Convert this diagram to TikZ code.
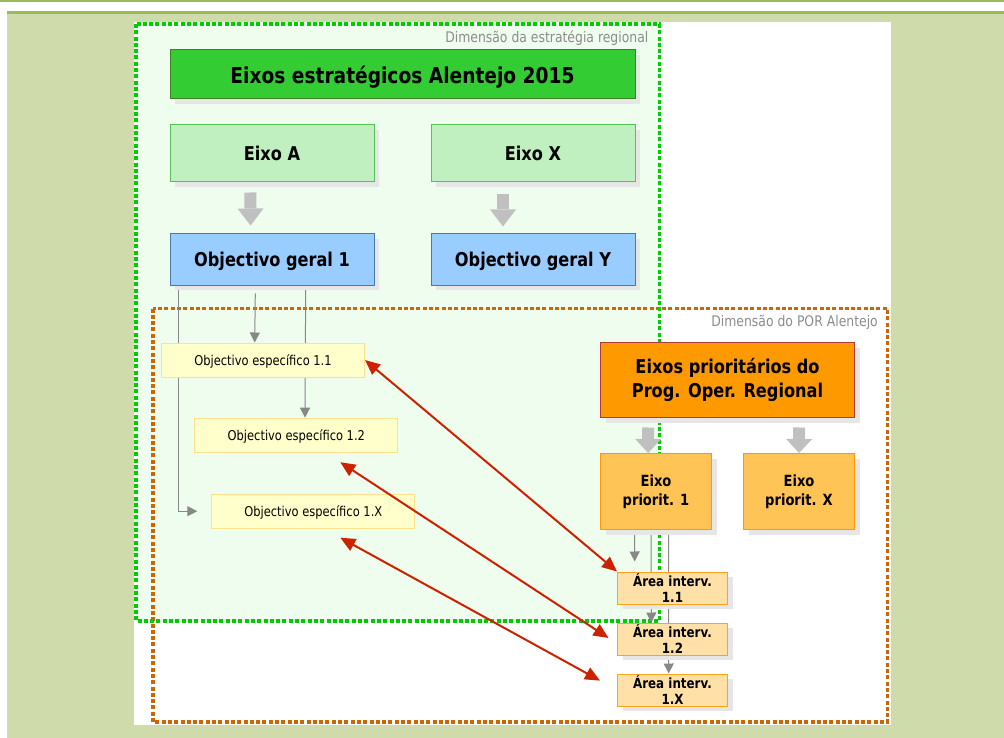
\documentclass[tikz,border=0pt]{standalone}
\usepackage{fontspec}
\setmainfont{DejaVu Sans}[FakeStretch=0.85]
\usepackage{xcolor}
\usepackage{tikz}
\usetikzlibrary{positioning,arrows.meta,shadows}

\definecolor{olivebg}{HTML}{CFDBAB}
\definecolor{oliveline}{HTML}{9BBB59}
\definecolor{regionfill}{HTML}{EEFDEE}
\definecolor{regionline}{HTML}{00CC00}
\definecolor{porline}{HTML}{CC6600}
\definecolor{titlefill}{HTML}{33CC33}
\definecolor{titleline}{HTML}{3F7F1F}
\definecolor{eixofill}{HTML}{C0EFC0}
\definecolor{eixoline}{HTML}{55C255}
\definecolor{geralfill}{HTML}{99CCFF}
\definecolor{geralline}{HTML}{4A78B0}
\definecolor{especfill}{HTML}{FFFFCC}
\definecolor{especline}{HTML}{FFE08C}
\definecolor{priorfill}{HTML}{FF9900}
\definecolor{priorline}{HTML}{B03A3A}
\definecolor{epfill}{HTML}{FFC455}
\definecolor{epline}{HTML}{FF9900}
\definecolor{areafill}{HTML}{FFE1A8}
\definecolor{arealine}{HTML}{FFA21F}
\definecolor{linkred}{HTML}{CC2200}
\definecolor{shadowgray}{HTML}{E6E6E6}
\definecolor{arrowgray}{HTML}{C0C0C0}
\definecolor{thingray}{HTML}{888888}
\definecolor{labelgray}{HTML}{8C8C8C}

\pgfdeclarelayer{background}
\pgfsetlayers{background,main}

\begin{document}
\begin{tikzpicture}[
    x=1pt, y=-1pt,
    box/.style={rectangle, draw, line width=1pt, inner sep=0pt, align=center, font=\bfseries\fontsize{19}{24}\selectfont},
    shade/.style={drop shadow={shadow xshift=5pt, shadow yshift=-5pt, fill=shadowgray, opacity=1}},
    eixobox/.style={box, shade, fill=eixofill, draw=eixoline, minimum width=204pt, minimum height=57pt, text depth=0pt},
    geralbox/.style={box, shade, fill=geralfill, draw=geralline, minimum width=204pt, minimum height=51pt, text depth=0pt},
    espbox/.style={box, fill=especfill, draw=especline, minimum width=203pt, minimum height=34pt, text depth=0pt, font=\fontsize{13.5}{16}\selectfont},
    epbox/.style={box, shade, fill=epfill, draw=epline, minimum width=111pt, minimum height=76pt, font=\bfseries\fontsize{15.4}{19.5}\selectfont},
    areabox/.style={box, shade, fill=areafill, draw=arealine, minimum width=110pt, minimum height=32pt, font=\bfseries\fontsize{14}{15.7}\selectfont},
    dimlabel/.style={anchor=base east, labelgray, inner sep=0pt, font=\fontsize{14.6}{16}\selectfont},
    frame/.style={line width=3.5pt, dash pattern=on 4pt off 2.3pt},
    bigarrow/.style={-{Triangle[width=26pt, length=#1, line width=0pt 0 0]}, line width=12pt, arrowgray},
    bigarrow/.default=17pt,
    thin/.style={-{Triangle[width=10pt, length=10pt]}, line width=1pt, thingray},
    link/.style={{Triangle[width=13pt, length=15pt]}-{Triangle[width=13pt, length=15pt]}, line width=2pt, linkred}
]
\useasboundingbox (0,0) rectangle (1004,738);
% Regional strategy
\node[box, shade, fill=titlefill, draw=titleline, minimum width=465pt, minimum height=49pt, text depth=0pt, font=\bfseries\fontsize{21.9}{26}\selectfont] (eixos) at (402.5,74.5) {Eixos estratégicos Alentejo 2015};
\node[eixobox, below right=25pt and 0pt of eixos.south west] (eixoa) {Eixo A};
\node[eixobox, below left=25pt and 0pt of eixos.south east] (eixox) {Eixo X};
\node[geralbox, below=51pt of eixoa] (geral1) {Objectivo geral 1};
\node[geralbox, below=51pt of eixox] (geraly) {Objectivo geral Y};
% Specific objectives
\node[espbox] (esp11) at (263,360) {Objectivo específico 1.1};
\node[espbox] (esp12) at (296.3,435.2) {Objectivo específico 1.2};
\node[espbox] (esp1x) at (313.3,511.2) {Objectivo específico 1.X};
% POR
\node[box, shade, fill=priorfill, draw=priorline, minimum width=254pt, minimum height=75pt] (prior) at (727.5,380) {Eixos prioritários do\\Prog. Oper. Regional};
\node[epbox, below right=35pt and 0pt of prior.south west] (ep1) {Eixo\\priorit. 1};
\node[epbox, below left=35pt and 0pt of prior.south east] (epx) {Eixo\\priorit. X};
% Intervention areas
\node[areabox] (area11) at (672.5,588) {Área interv.\\1.1};
\node[areabox, below=18pt of area11] (area12) {Área interv.\\1.2};
\node[areabox, below=18pt of area12] (area1x) {Área interv.\\1.X};
% Labels
\node[dimlabel] (dimreg) at (648.5,42.3) {Dimensão da estratégia regional};
\node[dimlabel] (dimpor) at (878,326) {Dimensão do POR Alentejo};
% Block arrows
\draw[bigarrow, shorten <=10pt, shorten >=8pt] ([xshift=-21.7pt]eixoa.south) -- ([xshift=-21.3pt]geral1.north);
\draw[bigarrow, shorten <=12pt, shorten >=7pt] ([xshift=-30pt]eixox.south) -- ([xshift=-30pt]geraly.north);
\draw[bigarrow=14pt, shorten <=9.5pt] ([xshift=-79.2pt]prior.south) -- ([xshift=-7.9pt]ep1.north);
\draw[bigarrow=14pt, shorten <=9.5pt] ([xshift=71.8pt]prior.south) -- (epx.north);
% Links between objectives and areas
\draw[link] (esp11.east) -- (area11.north west);
\draw[link] ([xshift=44pt,yshift=-9.5pt]esp12.south) -- ([xshift=-8.5pt,yshift=1pt]area12.west);
\draw[link] ([xshift=27pt,yshift=-9pt]esp1x.south) -- ([xshift=-17pt,yshift=9.4pt]area1x.west);
% Frames and thin connectors
\begin{pgfonlayer}{background}
\fill[white] (0,0) rectangle (1004,738);
\fill[oliveline] (0,0) rectangle (1004,2);
\fill[olivebg] (7,11) rectangle (1004,738);
\fill[oliveline] (7,11) rectangle (1004,13.7);
\fill[white] (134,22) rectangle (891,725);
\fill[regionfill] (136,24) rectangle (659.5,621);
\draw[frame, porline] (153,308.5) rectangle (887.5,722);
\draw[frame, regionline] (136,24) rectangle (659.5,621);
\draw[thin, shorten <=3.5pt] ([xshift=-93.3pt]geral1.south) |- ([xshift=-14pt]esp1x.west);
\draw[thin, shorten <=8pt] ([xshift=-16.6pt]geral1.south) -- ([xshift=-8.3pt]esp11.north);
\draw[thin, shorten <=3.5pt] ([xshift=33.7pt]geral1.south) -- ([xshift=8.7pt]esp12.north);
\draw[thin, shorten <=4pt] ([xshift=-21.5pt]ep1.south) -- ([xshift=-37.8pt,yshift=10pt]area11.north);
\draw[thin, shorten <=4pt] ([xshift=-4.9pt]ep1.south) -- ([xshift=-21.2pt]area12.north);
\draw[thin, shorten <=4pt] ([xshift=12.5pt]ep1.south) -- ([xshift=-3.8pt]area1x.north);
\end{pgfonlayer}
\end{tikzpicture}
\end{document}
